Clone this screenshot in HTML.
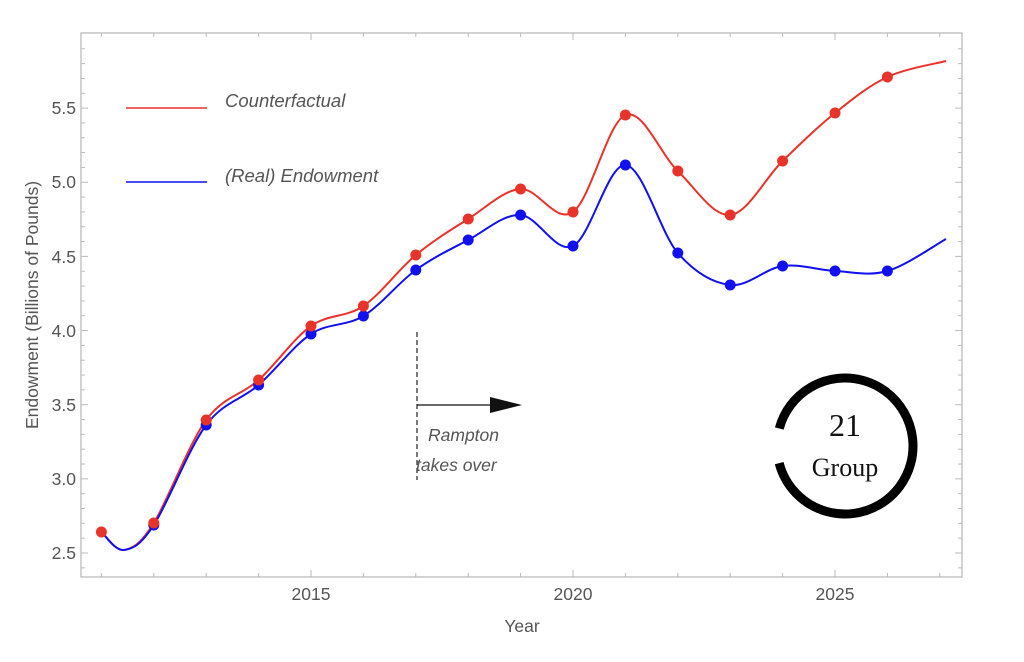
<!DOCTYPE html>
<html><head><meta charset="utf-8"><style>
html,body{margin:0;padding:0;background:#fff;width:1024px;height:662px;overflow:hidden}
text{font-family:"Liberation Sans",sans-serif;fill:#555}
</style></head><body>
<svg id="s" width="1024" height="662" viewBox="0 0 1024 662" xmlns="http://www.w3.org/2000/svg">
<rect x="81" y="33" width="881" height="544" fill="none" stroke="#bbb" stroke-width="1.3"/>
<g id="ticks" stroke="#bbb" stroke-width="1"></g>
<g font-size="17.5">
<text x="311" y="600" text-anchor="middle">2015</text>
<text x="573" y="600" text-anchor="middle">2020</text>
<text x="835" y="600" text-anchor="middle">2025</text>
<text x="522" y="632" text-anchor="middle">Year</text>
<g text-anchor="end">
<text x="76" y="559">2.5</text><text x="76" y="485">3.0</text><text x="76" y="411">3.5</text>
<text x="76" y="337">4.0</text><text x="76" y="263">4.5</text><text x="76" y="188">5.0</text><text x="76" y="114">5.5</text>
</g>
<text transform="translate(38,305) rotate(-90)" text-anchor="middle">Endowment (Billions of Pounds)</text>
</g>
<line x1="126" y1="108" x2="207" y2="108" stroke="#e8332a" stroke-width="1.6"/>
<line x1="126" y1="182" x2="207" y2="182" stroke="#1010f0" stroke-width="1.6"/>
<text x="225" y="107" font-size="18.5" font-style="italic">Counterfactual</text>
<text x="225" y="182" font-size="18.5" font-style="italic">(Real) Endowment</text>
<line x1="417" y1="332" x2="417" y2="480" stroke="#333" stroke-width="1.3" stroke-dasharray="5,3"/>
<line x1="417" y1="405" x2="500" y2="405" stroke="#111" stroke-width="1.3"/>
<polygon points="522,405 490,397 490,413" fill="#111"/>
<text x="428" y="441" font-size="17.5" font-style="italic">Rampton</text>
<text x="416" y="471" font-size="17.5" font-style="italic">takes over</text>
<path id="red" fill="none" stroke="#e8332a" stroke-width="2"/>
<path id="blue" fill="none" stroke="#1010f0" stroke-width="2"/>
<g id="dots"></g>
<g>
<circle cx="845" cy="446" r="68" fill="none" stroke="#000" stroke-width="9" stroke-dasharray="392,35" transform="rotate(195 845 446)"/>
<circle cx="849" cy="446" r="66" fill="none" stroke="#000" stroke-width="4" stroke-dasharray="150,277" transform="rotate(300 849 446)"/>
<text x="845" y="436" font-size="32" text-anchor="middle" style="font-family:'Liberation Serif',serif;fill:#111">21</text>
<text x="845" y="476" font-size="26" text-anchor="middle" style="font-family:'Liberation Serif',serif;fill:#111">Group</text>
</g>
</svg>
<script>
var ns="http://www.w3.org/2000/svg";
function X(y){return 311+(y-2015)*52.4;}
var red=[[2011,532],[2012,523],[2013,420],[2014,380],[2015,326],[2016,306],[2017,255],[2018,219],[2019,189],[2020,212],[2021,115],[2022,171],[2023,215],[2024,161],[2025,113],[2026,77]];
var blue=[[2012,525],[2013,425],[2014,385],[2015,334],[2016,316],[2017,270],[2018,240],[2019,215],[2020,246],[2021,165],[2022,253],[2023,285],[2024,266],[2025,271],[2026,271]];
var redL=[[X(2011),532],[124,550]].concat(red.slice(1).map(function(p){return[X(p[0]),p[1]]}));
redL.push([946,61]);
var blueL=[[X(2011),532],[124,550]].concat(blue.map(function(p){return[X(p[0]),p[1]]}));
blueL.push([946,239]);
function spline(P){
 var d="M"+P[0][0]+","+P[0][1];
 for(var i=0;i<P.length-1;i++){
  var p0=P[i-1]||P[i],p1=P[i],p2=P[i+1],p3=P[i+2]||P[i+1];
  var c1=[p1[0]+(p2[0]-p0[0])/6,p1[1]+(p2[1]-p0[1])/6];
  var c2=[p2[0]-(p3[0]-p1[0])/6,p2[1]-(p3[1]-p1[1])/6];
  d+=" C"+c1+" "+c2+" "+p2;
 }
 return d;
}
document.getElementById("red").setAttribute("d",spline(redL));
document.getElementById("blue").setAttribute("d",spline(blueL));
var g=document.getElementById("dots");
function dot(x,y,c){var e=document.createElementNS(ns,"circle");e.setAttribute("cx",x);e.setAttribute("cy",y);e.setAttribute("r",5.5);e.setAttribute("fill",c);g.appendChild(e);}
blue.forEach(function(p){dot(X(p[0]),p[1],"#1010f0")});
red.forEach(function(p){dot(X(p[0]),p[1],"#e8332a")});
var t=document.getElementById("ticks");
function ln(a,b,c,d){var e=document.createElementNS(ns,"line");e.setAttribute("x1",a);e.setAttribute("y1",b);e.setAttribute("x2",c);e.setAttribute("y2",d);t.appendChild(e);}
for(var y=2011;y<=2027;y++){var x=X(y),L=(y%5==0)?7:4;ln(x,577,x,577-L);ln(x,33,x,33+L);}
for(var v=24;v<=59;v++){var yy=553-(v/10-2.5)*148.3;if(yy<34||yy>576)continue;var L=(v%5==0)?7:4;ln(81,yy,81+L,yy);ln(962,yy,962-L,yy);}
</script>
</body></html>
